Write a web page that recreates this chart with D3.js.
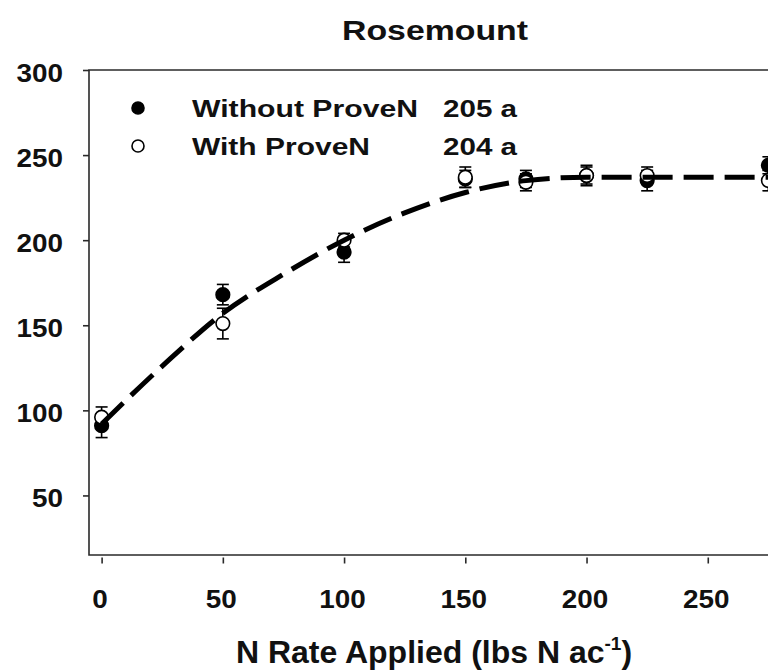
<!DOCTYPE html>
<html>
<head>
<meta charset="utf-8">
<script src="https://cdn.jsdelivr.net/npm/d3@7"></script>
<style>
  html, body { margin: 0; padding: 0; background: #fff; }
  svg { display: block; }
  text { font-family: "Liberation Sans", Arial, sans-serif; font-weight: bold; fill: #111; }
</style>
</head>
<body>
<svg id="chart" width="768" height="670"></svg>
<script>
// N rates (lbs N/ac) at which yield was measured
const nRates = [0, 50, 100, 150, 175, 200, 225, 275];

// Mean yield and error for each treatment
const withoutProveN = [91, 168, 193, 236, 236, 238, 235, 244];
const withoutProveNErr = [7, 6, 6, 5, 5, 5, 6, 5];
const withProveN = [96, 151, 200, 237, 234, 238, 238, 235];
const withProveNErr = [6, 9, 4, 6, 5, 6, 5, 6];

// Fitted quadratic-plateau response, read at regular N rates
const fitRates = [0, 25, 50, 75, 100, 125, 150, 175, 200, 225, 250, 275, 300];
const fitYield = [92, 126, 157, 180, 200, 216, 228, 235, 237, 237, 237, 237, 237];

const xTicks = [0, 50, 100, 150, 200, 250];
const yTicks = [50, 100, 150, 200, 250, 300];

const legendLabels = ["Without ProveN", "With ProveN"];
const legendMeans = ["205 a", "204 a"];

const svg = d3.select("#chart");

const x = d3.scaleLinear().domain([-5.2, 300]).range([89, 829]);
const y = d3.scaleLinear().domain([15, 300]).range([555, 70]);

// Title
svg.append("text")
  .attr("x", 435).attr("y", 40)
  .attr("text-anchor", "middle")
  .attr("font-size", 28)
  .attr("textLength", 186).attr("lengthAdjust", "spacingAndGlyphs")
  .text("Rosemount");

// Plot frame: left, top and bottom lines
const frameColor = "#2a2a2a";
svg.append("path")
  .attr("d", `M${x.range()[1]},${y(300)}H${x(-5.2)}V${y(15)}H${x.range()[1]}`)
  .attr("fill", "none")
  .attr("stroke", frameColor)
  .attr("stroke-width", 1.6);

// Y axis
const yAxis = svg.append("g")
  .attr("transform", `translate(${x(-5.2)},0)`)
  .call(d3.axisLeft(y).tickValues(yTicks).tickSize(6).tickPadding(20));
yAxis.select(".domain").remove();
yAxis.selectAll(".tick line").attr("stroke", frameColor).attr("stroke-width", 1.6);
yAxis.selectAll(".tick text")
  .attr("font-size", 25)
  .attr("font-family", null)
  .attr("dy", "11.5px")
  .attr("fill", "#111")
  .each(function (d) {
    d3.select(this).attr("textLength", String(d).length * 15.5).attr("lengthAdjust", "spacingAndGlyphs");
  });

// X axis, offset slightly below the frame
const xAxis = svg.append("g")
  .attr("transform", `translate(0,${y(15) + 2.5})`)
  .call(d3.axisBottom(x).tickValues(xTicks).tickSize(6).tickPadding(26));
xAxis.select(".domain").remove();
xAxis.selectAll(".tick line").attr("stroke", frameColor).attr("stroke-width", 1.6);
xAxis.selectAll(".tick text")
  .attr("font-size", 26)
  .attr("font-family", null)
  .attr("dx", "-2px")
  .attr("fill", "#111")
  .each(function (d) {
    d3.select(this).attr("textLength", String(d).length * 15.5).attr("lengthAdjust", "spacingAndGlyphs");
  });

// X axis title with superscript
const xTitle = svg.append("text")
  .attr("x", 434).attr("y", 663)
  .attr("text-anchor", "middle")
  .attr("font-size", 32);
xTitle.append("tspan").text("N Rate Applied (lbs N ac");
xTitle.append("tspan").attr("font-size", 19).attr("dy", -13).text("-1");
xTitle.append("tspan").attr("dy", 13).text(")");

// Series data rows
const rowsWithout = nRates.map((n, i) => ({ n, v: withoutProveN[i], e: withoutProveNErr[i] }));
const rowsWith = nRates.map((n, i) => ({ n, v: withProveN[i], e: withProveNErr[i] }));

function drawSeries(rows, filled) {
  const g = svg.append("g");
  const eb = g.selectAll("g.eb").data(rows).join("g").attr("class", "eb");
  eb.append("line")
    .attr("x1", d => x(d.n)).attr("x2", d => x(d.n))
    .attr("y1", d => y(d.v - d.e)).attr("y2", d => y(d.v + d.e))
    .attr("stroke", "#000").attr("stroke-width", 1.6);
  [-1, 1].forEach(s => {
    eb.append("line")
      .attr("x1", d => x(d.n) - 6).attr("x2", d => x(d.n) + 6)
      .attr("y1", d => y(d.v + s * d.e)).attr("y2", d => y(d.v + s * d.e))
      .attr("stroke", "#000").attr("stroke-width", 1.6);
  });
  g.selectAll("circle").data(rows).join("circle")
    .attr("cx", d => x(d.n)).attr("cy", d => y(d.v))
    .attr("r", 6.8)
    .attr("fill", filled ? "#000" : "#fff")
    .attr("stroke", "#000").attr("stroke-width", 1.6);
}

drawSeries(rowsWithout, true);
drawSeries(rowsWith, false);

// Fitted response curve (dashed)
const fitLine = d3.line()
  .x((d, i) => x(fitRates[i]))
  .y(d => y(d))
  .curve(d3.curveMonotoneX);
svg.append("path")
  .attr("d", fitLine(fitYield))
  .attr("fill", "none")
  .attr("stroke", "#000")
  .attr("stroke-width", 5)
  .attr("stroke-dasharray", "30,11");

// Legend
const legendRows = [108, 146];
const legendTextLen = [226, 178];
legendLabels.forEach((label, i) => {
  svg.append("circle")
    .attr("cx", 138).attr("cy", legendRows[i]).attr("r", 6)
    .attr("fill", i === 0 ? "#000" : "#fff")
    .attr("stroke", "#000").attr("stroke-width", 1.6);
  svg.append("text")
    .attr("x", 192).attr("y", legendRows[i] + 9)
    .attr("font-size", 24)
    .attr("textLength", legendTextLen[i]).attr("lengthAdjust", "spacingAndGlyphs")
    .text(label);
  svg.append("text")
    .attr("x", 443).attr("y", legendRows[i] + 9)
    .attr("font-size", 24)
    .attr("textLength", 74).attr("lengthAdjust", "spacingAndGlyphs")
    .text(legendMeans[i]);
});
</script>
</body>
</html>
